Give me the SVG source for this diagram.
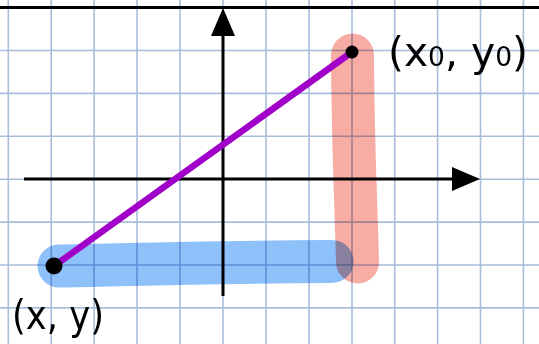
<svg xmlns="http://www.w3.org/2000/svg" width="539" height="344" viewBox="0 0 539 344">
<defs>
<style>
.grid line{stroke:#a9bddb;stroke-width:1.6}
.axis{stroke:#000;stroke-width:3;fill:none}
.hl{fill:none;stroke-linecap:round;stroke-width:43;mix-blend-mode:multiply}
.lbl{font-family:"DejaVu Sans","Liberation Sans",sans-serif;fill:#000}
</style>
</defs>
<rect width="539" height="344" fill="#fff"/>
<g id="grid" class="grid">
<line x1="8.3" y1="0" x2="8.3" y2="344"/>
<line x1="51.2" y1="0" x2="51.2" y2="344"/>
<line x1="94.1" y1="0" x2="94.1" y2="344"/>
<line x1="137" y1="0" x2="137" y2="344"/>
<line x1="180" y1="0" x2="180" y2="344"/>
<line x1="223" y1="0" x2="223" y2="344"/>
<line x1="266" y1="0" x2="266" y2="344"/>
<line x1="309" y1="0" x2="309" y2="344"/>
<line x1="352" y1="0" x2="352" y2="344"/>
<line x1="394.7" y1="0" x2="394.7" y2="344"/>
<line x1="437.6" y1="0" x2="437.6" y2="344"/>
<line x1="480.5" y1="0" x2="480.5" y2="344"/>
<line x1="523.4" y1="0" x2="523.4" y2="344"/>
<line x1="0" y1="50.5" x2="539" y2="50.5"/>
<line x1="0" y1="93.4" x2="539" y2="93.4"/>
<line x1="0" y1="136.3" x2="539" y2="136.3"/>
<line x1="0" y1="179.2" x2="539" y2="179.2"/>
<line x1="0" y1="222.1" x2="539" y2="222.1"/>
<line x1="0" y1="265" x2="539" y2="265"/>
<line x1="0" y1="307.9" x2="539" y2="307.9"/>
</g>
<g id="highlights">
<path class="hl" stroke="#f7aca4" d="M352.5,55 C353,150 356,200 357.5,262"/>
<path class="hl" stroke="#8ec0fa" d="M59,266 C120,265 200,262 332,261.5"/>
</g>
<g id="axes">
<line class="axis" x1="0" y1="7.5" x2="539" y2="7.5"/>
<line class="axis" x1="223" y1="296" x2="223" y2="34"/>
<polygon points="223,8 211,36 235,36" fill="#000"/>
<line class="axis" x1="24" y1="179" x2="454" y2="179"/>
<polygon points="480,179 452,167 452,191" fill="#000"/>
</g>
<g id="connectors">
<line x1="54" y1="266" x2="352" y2="52" stroke="#a000c8" stroke-width="6.5"/>
</g>
<g id="point-xy">
<circle cx="54" cy="266" r="8.5" fill="#000"/>
<text class="lbl" x="12" y="329" font-size="40" textLength="92" lengthAdjust="spacingAndGlyphs">(x, y)</text>
</g>
<g id="point-x0y0">
<circle cx="352" cy="52" r="6.5" fill="#000"/>
<text class="lbl" x="388" y="66" font-size="40" textLength="140" lengthAdjust="spacingAndGlyphs">(x<tspan font-size="26">0</tspan>, y<tspan font-size="26">0</tspan>)</text>
</g>
</svg>
